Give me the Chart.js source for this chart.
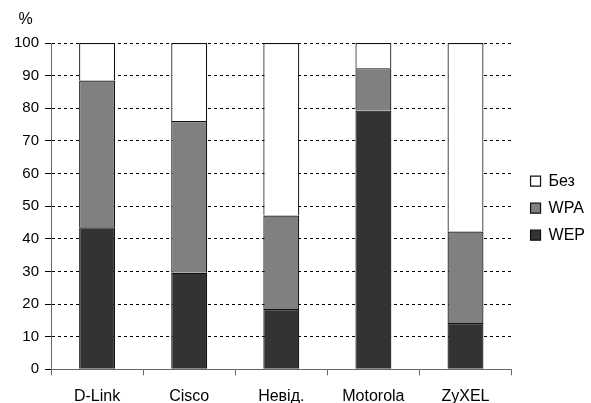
<!DOCTYPE html>
<html>
<head>
<meta charset="utf-8">
<script src="https://cdn.jsdelivr.net/npm/chart.js@4"></script>
<style>
  html, body { margin: 0; padding: 0; background: #fff; }
  #wrap { width: 591px; height: 403px; }
</style>
</head>
<body>
<div id="wrap"><canvas id="chart"></canvas></div>
<script>
// data
const vendors = ["D-Link", "Cisco", "Невід.", "Motorola", "ZyXEL"];
const wep = [43.5, 29.6, 18.5, 79.3, 14.2];
const wpa = [45.0, 46.5, 28.6, 13.0, 28.0];
const none = [11.5, 23.9, 52.9, 7.7, 57.8];
const yTicks = [0, 10, 20, 30, 40, 50, 60, 70, 80, 90, 100];
const unitLabel = "%";

const family = "'Liberation Sans', Arial, sans-serif";
const font = { family: family, size: 15 };
const bigFont = { family: family, size: 16 };

// "%" above the y tick labels
const unitPlugin = {
    id: "unit",
    afterLayout(chart) {
        // push the legend a little further from the plot
        chart.legend.left += 8;
        chart.legend.right += 8;
        chart.legend.top += 2;
        chart.legend.bottom += 2;
    },
    afterDraw(chart) {
        const y = chart.scales.y;
        const c = chart.ctx;
        c.save();
        c.font = `${bigFont.size}px ${family}`;
        c.fillStyle = "#000";
        c.textAlign = "center";
        c.textBaseline = "middle";
        c.fillText(unitLabel, y.left + (y.width - 12) / 2 + 2, chart.chartArea.top - 23);
        c.restore();
    }
};

const ctx = document.getElementById("chart").getContext("2d");

new Chart(ctx, {
    type: "bar",
    data: {
        labels: vendors,
        datasets: [
            { label: "WEP", data: wep, backgroundColor: "#333333" },
            { label: "WPA", data: wpa, backgroundColor: "#808080" },
            { label: "Без", data: none, backgroundColor: "#ffffff" }
        ].map(d => Object.assign(d, {
            borderColor: "#111",
            borderWidth: 1.2,
            categoryPercentage: 1,
            barPercentage: 0.39
        }))
    },
    options: {
        responsive: true,
        maintainAspectRatio: false,
        animation: false,
        devicePixelRatio: 1,
        layout: { padding: { left: 8, right: 4, top: 43, bottom: -15.5 } },
        plugins: {
            title: { display: false },
            legend: {
                position: "right",
                fullSize: false,
                reverse: true,
                labels: {
                    color: "#000",
                    font: bigFont,
                    boxWidth: 10,
                    boxHeight: 10,
                    padding: 11,
                    useBorderRadius: false
                }
            },
            tooltip: { enabled: false }
        },
        scales: {
            x: {
                stacked: true,
                border: { color: "#666", width: 1 },
                grid: { drawOnChartArea: false, offset: true, tickLength: 6, color: "#666" },
                ticks: { color: "#000", font: bigFont, padding: 12 }
            },
            y: {
                stacked: true,
                min: 0,
                max: 100,
                afterBuildTicks: axis => { axis.ticks = yTicks.map(v => ({ value: v })); },
                border: { color: "#666", width: 1, dash: [3, 3] },
                grid: { color: "#000", tickLength: 6 },
                ticks: { color: "#000", font: font, padding: 6 }
            }
        }
    },
    plugins: [unitPlugin]
});
</script>
</body>
</html>
